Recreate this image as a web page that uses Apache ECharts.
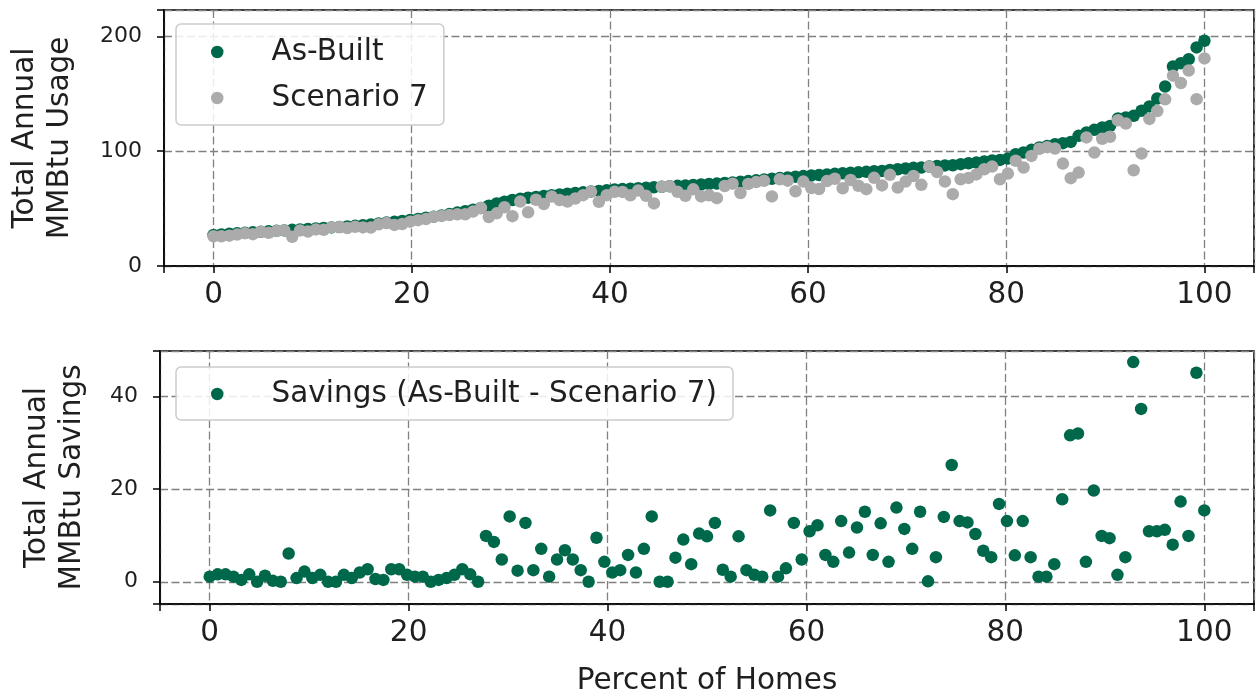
<!DOCTYPE html>
<html>
<head>
<meta charset="utf-8">
<title>Total Annual MMBtu Usage and Savings</title>
<script src="https://cdn.jsdelivr.net/npm/echarts@6/dist/echarts.min.js"></script>
<style>
  html, body { margin: 0; padding: 0; background: #fff; }
  #chart { width: 1256px; height: 700px; }
</style>
</head>
<body>
<div id="chart"></div>
<script>
// Homes sorted by As-Built annual usage (MMBtu)
const asBuilt = [
  27.0, 27.5, 28.0, 28.5, 29.0, 29.3, 29.8, 30.2, 30.6, 31.0,
  31.5, 31.8, 32.2, 32.7, 33.1, 33.6, 34.0, 34.5, 35.0, 35.6,
  36.2, 37.0, 37.8, 38.5, 39.3, 40.1, 41.0, 42.0, 43.0, 44.0,
  45.2, 46.5, 47.8, 49.0, 50.5, 52.5, 54.5, 56.0, 57.5, 58.5,
  59.5, 60.2, 61.0, 61.6, 62.3, 63.0, 63.6, 64.2, 64.8, 65.4,
  66.0, 66.6, 67.0, 67.4, 67.8, 68.2, 68.6, 69.0, 69.4, 69.8,
  70.2, 70.6, 71.0, 71.4, 71.8, 72.3, 72.8, 73.4, 74.0, 74.6,
  75.3, 76.0, 76.6, 77.2, 77.8, 78.3, 78.8, 79.3, 79.8, 80.3,
  80.8, 81.2, 81.6, 82.0, 82.6, 82.8, 83.7, 84.3, 84.9, 85.5,
  85.8, 86.6, 87.2, 87.6, 87.8, 88.7, 89.5, 90.1, 91.0, 91.9,
  92.4, 93.6, 97.4, 98.9, 101.2, 103.2, 104.6, 106.1, 107.0, 108.1,
  113.4, 116.3, 118.6, 120.7, 122.0, 128.5, 129.4, 130.8, 135.2, 139.0,
  145.9, 156.4, 173.8, 176.7, 180.2, 190.4, 196.2
];

// Same homes under Scenario 7 (MMBtu)
const scenario7 = [
  25.9, 25.9, 26.4, 27.4, 28.6, 27.7, 29.8, 28.9, 30.4, 31.0,
  25.4, 31.0, 30.0, 31.9, 31.6, 33.6, 34.0, 33.0, 34.2, 33.6,
  33.5, 36.4, 37.4, 35.8, 36.6, 38.6, 39.9, 40.9, 43.0, 43.6,
  44.4, 45.0, 45.1, 47.4, 50.5, 42.6, 45.9, 51.2, 43.4, 56.1,
  46.8, 57.7, 53.9, 60.5, 57.5, 56.2, 58.8, 61.7, 64.8, 55.9,
  61.7, 64.6, 64.5, 61.6, 65.8, 61.1, 54.5, 69.0, 69.4, 64.6,
  61.1, 66.8, 60.6, 61.6, 59.1, 69.7, 71.7, 63.6, 71.5, 73.1,
  74.2, 60.6, 75.5, 74.3, 65.1, 73.5, 67.9, 67.1, 74.0, 76.0,
  67.7, 74.9, 69.9, 66.9, 76.8, 70.2, 79.4, 68.3, 73.5, 78.4,
  70.7, 86.5, 81.9, 73.6, 62.6, 75.6, 76.7, 79.8, 84.3, 86.6,
  75.6, 80.5, 91.7, 85.8, 95.9, 102.1, 103.5, 102.3, 89.2, 76.5,
  81.4, 112.0, 98.9, 110.8, 112.6, 127.0, 124.1, 83.4, 97.9, 128.1,
  135.0, 145.2, 165.8, 159.4, 170.3, 145.3, 180.8
];

// Savings per home: As-Built minus Scenario 7 (MMBtu)
const savings = [
  1.1, 1.6, 1.6, 1.1, 0.4, 1.6, 0.0, 1.3, 0.2, 0.0,
  6.1, 0.8, 2.2, 0.8, 1.5, 0.0, 0.0, 1.5, 0.8, 2.0,
  2.7, 0.6, 0.4, 2.7, 2.7, 1.5, 1.1, 1.1, 0.0, 0.4,
  0.8, 1.5, 2.7, 1.6, 0.0, 9.9, 8.6, 4.8, 14.1, 2.4,
  12.7, 2.5, 7.1, 1.1, 4.8, 6.8, 4.8, 2.5, 0.0, 9.5,
  4.3, 2.0, 2.5, 5.8, 2.0, 7.1, 14.1, 0.0, 0.0, 5.2,
  9.1, 3.8, 10.4, 9.8, 12.7, 2.6, 1.1, 9.8, 2.5, 1.5,
  1.1, 15.4, 1.1, 2.9, 12.7, 4.8, 10.9, 12.2, 5.8, 4.3,
  13.1, 6.3, 11.7, 15.1, 5.8, 12.6, 4.3, 16.0, 11.4, 7.1,
  15.1, 0.1, 5.3, 14.0, 25.2, 13.1, 12.8, 10.3, 6.7, 5.3,
  16.8, 13.1, 5.7, 13.1, 5.3, 1.1, 1.1, 3.8, 17.8, 31.6,
  32.0, 4.3, 19.7, 9.9, 9.4, 1.5, 5.3, 47.4, 37.3, 10.9,
  10.9, 11.2, 8.0, 17.3, 9.9, 45.1, 15.4
];

const xTicks = [0, 20, 40, 60, 80, 100];
const usageTicks = [0, 100, 200];
const savingsTicks = [0, 20, 40];

const seriesNames = ['As-Built', 'Scenario 7', 'Savings (As-Built - Scenario 7)'];

// Percentile rank of each home in the sorted list
const percentOfHomes = asBuilt.map((_, i) => i * 100 / (asBuilt.length - 1));
const toPoints = (vals) => vals.map((v, i) => [percentOfHomes[i], v]);

const FONT = 'DejaVu Sans';
const TEXT = '#1f1f1f';
const GREEN = '#00684A';
const GREY = '#ABABAB';
const BIG = 29.5;
const SMALL = 22;

const dashed = { show: true, lineStyle: { color: '#808080', width: 1.3, type: [8, 3.5] } };
const tickStyle = { show: true, inside: false, length: 7, lineStyle: { color: '#000', width: 1.5 } };
const frameLine = { show: true, onZero: false, lineStyle: { color: '#000', width: 1.6 } };

function xAxis(gridIndex) {
  return {
    type: 'value', gridIndex, min: -5, max: 105, splitNumber: 5, position: 'bottom',
    axisLine: frameLine,
    axisTick: tickStyle,
    axisLabel: { customValues: xTicks, margin: 14, fontSize: BIG, fontFamily: FONT, color: TEXT },
    splitLine: dashed
  };
}

function yAxis(gridIndex, opts, ticks, name, gap) {
  return Object.assign({
    type: 'value', gridIndex, position: 'left',
    axisLine: frameLine,
    axisTick: tickStyle,
    axisLabel: { customValues: ticks, margin: 22, fontSize: SMALL, fontFamily: FONT, color: TEXT },
    splitLine: dashed,
    name, nameLocation: 'middle', nameGap: gap, nameRotate: 90,
    nameTextStyle: { fontSize: BIG, fontFamily: FONT, color: TEXT, lineHeight: 35 }
  }, opts);
}

function legend(items, left, top, padTop, padBottom) {
  return {
    data: items, orient: 'vertical', left, top,
    padding: [padTop, 16, padBottom, 35],
    itemGap: 16, itemWidth: 12.5, itemHeight: 12.5, icon: 'circle',
    backgroundColor: 'rgba(255,255,255,0.85)',
    borderColor: '#cccccc', borderWidth: 1.5, borderRadius: 5,
    formatter: (n) => '{t|' + n + '}',
    textStyle: {
      fontSize: BIG, fontFamily: FONT, color: TEXT,
      rich: { t: { fontSize: BIG, fontFamily: FONT, color: TEXT, lineHeight: 30, padding: [0, 0, 0, 43] } }
    }
  };
}

const chart = echarts.init(document.getElementById('chart'), null, { renderer: 'canvas' });
chart.setOption({
  animation: false,
  backgroundColor: '#fff',
  grid: [
    { left: 160, right: 2, top: 10, height: 256, show: true, borderColor: '#000', borderWidth: 1.6, backgroundColor: 'transparent' },
    { left: 160, right: 2, top: 351, height: 256, show: true, borderColor: '#000', borderWidth: 1.6, backgroundColor: 'transparent' }
  ],
  xAxis: [
    xAxis(0),
    Object.assign(xAxis(1), {
      name: 'Percent of Homes', nameLocation: 'middle', nameGap: 60,
      nameTextStyle: { fontSize: BIG, fontFamily: FONT, color: TEXT, lineHeight: 35 }
    })
  ],
  yAxis: [
    yAxis(0, { min: 0, max: 223, interval: 100 }, usageTicks, 'Total Annual\nMMBtu Usage', 86),
    yAxis(1, { min: -4.8, max: 49.8, splitNumber: 3 }, savingsTicks, 'Total Annual\nMMBtu Savings', 70)
  ],
  legend: [
    legend([seriesNames[0], seriesNames[1]], 176, 24, 13, 12),
    legend([seriesNames[2]], 176, 367, 12, 11)
  ],
  series: [
    { name: seriesNames[0], type: 'scatter', xAxisIndex: 0, yAxisIndex: 0, symbol: 'circle', symbolSize: 12.5,
      itemStyle: { color: GREEN, opacity: 1 }, data: toPoints(asBuilt), z: 2 },
    { name: seriesNames[1], type: 'scatter', xAxisIndex: 0, yAxisIndex: 0, symbol: 'circle', symbolSize: 12.5,
      itemStyle: { color: GREY, opacity: 1 }, data: toPoints(scenario7), z: 3 },
    { name: seriesNames[2], type: 'scatter', xAxisIndex: 1, yAxisIndex: 1, symbol: 'circle', symbolSize: 12.5,
      itemStyle: { color: GREEN, opacity: 1 }, data: toPoints(savings), z: 2 }
  ]
});
</script>
</body>
</html>
